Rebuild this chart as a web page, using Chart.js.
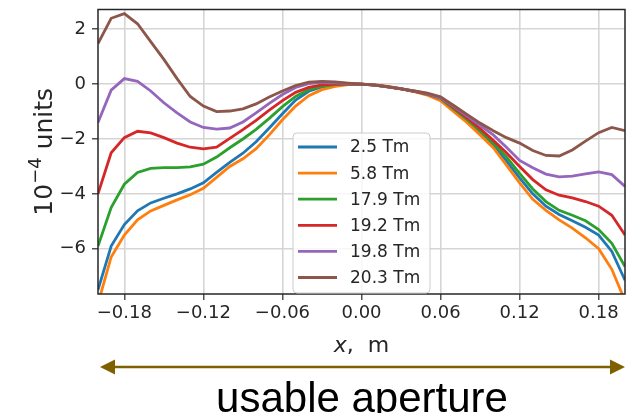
<!DOCTYPE html>
<html>
<head>
<meta charset="utf-8">
<script src="https://cdn.jsdelivr.net/npm/chart.js@4.4.1/dist/chart.umd.min.js"></script>
<style>
  html, body { margin: 0; padding: 0; background: #fff; }
  #wrap { width: 627px; height: 413px; }
</style>
</head>
<body>
<div id="wrap"><canvas id="chart" width="627" height="413"></canvas></div>
<script>
// sample positions along the aperture, m
const xPos = [-0.20, -0.19, -0.18, -0.17, -0.16, -0.15, -0.14, -0.13, -0.12, -0.11,
              -0.10, -0.09, -0.08, -0.07, -0.06, -0.05, -0.04, -0.03, -0.02, -0.01,
               0.00,  0.01,  0.02,  0.03,  0.04,  0.05,  0.06,  0.07,  0.08,  0.09,
               0.10,  0.11,  0.12,  0.13,  0.14,  0.15,  0.16,  0.17,  0.18,  0.19, 0.20];

const fieldLabels = ['2.5 Tm', '5.8 Tm', '17.9 Tm', '19.2 Tm', '19.8 Tm', '20.3 Tm'];
const lineColors = ['#1f77b4', '#ff7f0e', '#2ca02c', '#d62728', '#9467bd', '#8c564b'];

// field error, 1e-4 units
const f2_5 = [-7.50, -5.90, -5.12, -4.62, -4.33, -4.16, -4.00, -3.82, -3.60, -3.22,
              -2.85, -2.52, -2.10, -1.60, -1.08, -0.58, -0.26, -0.10, -0.03, -0.01,
               0.00, -0.03, -0.09, -0.16, -0.26, -0.38, -0.55, -0.93, -1.32, -1.75,
              -2.22, -2.80, -3.42, -4.00, -4.45, -4.75, -4.98, -5.22, -5.50, -6.10, -7.15];
const f5_8 = [-8.00, -6.30, -5.50, -4.95, -4.62, -4.42, -4.22, -4.03, -3.80, -3.40,
              -3.00, -2.72, -2.35, -1.85, -1.30, -0.80, -0.42, -0.20, -0.08, -0.02,
               0.00, -0.02, -0.08, -0.16, -0.27, -0.40, -0.60, -1.00, -1.40, -1.85,
              -2.32, -2.95, -3.60, -4.20, -4.60, -4.95, -5.25, -5.60, -6.00, -6.75, -7.90];
const f17_9 = [-5.90, -4.50, -3.65, -3.22, -3.07, -3.04, -3.04, -3.02, -2.92, -2.66,
               -2.32, -2.00, -1.65, -1.25, -0.82, -0.45, -0.20, -0.08, -0.02, 0.00,
                0.00, -0.04, -0.10, -0.17, -0.26, -0.37, -0.52, -0.90, -1.28, -1.70,
               -2.15, -2.65, -3.25, -3.82, -4.28, -4.60, -4.78, -4.98, -5.30, -5.80, -6.65];
const f19_2 = [-4.00, -2.50, -1.95, -1.72, -1.78, -1.95, -2.15, -2.30, -2.36, -2.30,
               -1.98, -1.66, -1.32, -0.95, -0.60, -0.30, -0.12, -0.03, 0.00, 0.01,
                0.00, -0.04, -0.10, -0.17, -0.26, -0.36, -0.50, -0.86, -1.22, -1.62,
               -2.05, -2.50, -3.00, -3.48, -3.85, -4.05, -4.15, -4.28, -4.45, -4.78, -5.50];
const f19_8 = [-1.40, -0.22, 0.20, 0.10, -0.25, -0.68, -1.05, -1.38, -1.58, -1.64,
               -1.60, -1.38, -1.05, -0.70, -0.38, -0.12, 0.02, 0.06, 0.05, 0.02,
                0.00, -0.04, -0.10, -0.17, -0.25, -0.35, -0.50, -0.82, -1.16, -1.50,
               -1.85, -2.30, -2.78, -3.05, -3.28, -3.38, -3.35, -3.27, -3.20, -3.30, -3.73];
const f20_3 = [1.48, 2.40, 2.57, 2.20, 1.55, 0.90, 0.20, -0.45, -0.80, -1.00,
               -0.98, -0.90, -0.72, -0.47, -0.25, -0.05, 0.07, 0.10, 0.08, 0.04,
                0.00, -0.04, -0.10, -0.17, -0.25, -0.33, -0.46, -0.78, -1.10, -1.42,
               -1.70, -1.95, -2.15, -2.42, -2.60, -2.62, -2.40, -2.08, -1.77, -1.58, -1.70];

const xTicks = [-0.18, -0.12, -0.06, 0, 0.06, 0.12, 0.18];
const xTickLabels = ['\u22120.18', '\u22120.12', '\u22120.06', '0.00', '0.06', '0.12', '0.18'];
const yTicks = [-6, -4, -2, 0, 2];
const yTickLabels = ['\u22126', '\u22124', '\u22122', '0', '2'];

const series = [f2_5, f5_8, f17_9, f19_2, f19_8, f20_3];

const datasets = series.map((vals, i) => ({
  label: fieldLabels[i],
  data: vals.map((v, k) => ({ x: xPos[k], y: v })),
  borderColor: lineColors[i],
  borderWidth: 2.8,
  pointRadius: 0,
  tension: 0,
  fill: false,
  order: series.length - i   // later fields drawn on top
}));

const FONT = 'DejaVu Sans';

// drop the label overhang chart.js reserves so the plot box sits where we put it
function noOverhang(s) {
  s.paddingTop = 0; s.paddingBottom = 0; s.paddingLeft = 0; s.paddingRight = 0;
}

const decorations = {
  id: 'decorations',
  beforeDraw(chart) {
    const ctx = chart.ctx;
    ctx.save();
    ctx.fillStyle = '#fff';
    ctx.fillRect(0, 0, chart.width, chart.height);
    ctx.restore();
  },
  afterDatasetsDraw(chart) {
    const { ctx, chartArea: a } = chart;
    ctx.save();
    ctx.strokeStyle = '#262626';
    ctx.lineWidth = 1.5;
    ctx.strokeRect(a.left, a.top, a.right - a.left, a.bottom - a.top);
    ctx.restore();
  },
  afterDraw(chart) {
    const ctx = chart.ctx;
    const a = chart.chartArea;
    ctx.save();

    // legend
    const lx = 293, ly = 133, lw = 137, lh = 160;
    ctx.beginPath();
    ctx.roundRect(lx, ly, lw, lh, 4);
    ctx.fillStyle = 'rgba(255,255,255,0.8)';
    ctx.fill();
    ctx.strokeStyle = '#cccccc';
    ctx.lineWidth = 1;
    ctx.stroke();
    ctx.font = '17px "' + FONT + '"';
    ctx.textBaseline = 'middle';
    ctx.textAlign = 'left';
    chart.data.datasets.forEach((ds, i) => {
      const y = 147 + i * 26.1;
      ctx.strokeStyle = ds.borderColor;
      ctx.lineWidth = 2.8;
      ctx.beginPath();
      ctx.moveTo(298, y);
      ctx.lineTo(337, y);
      ctx.stroke();
      ctx.fillStyle = '#262626';
      ctx.fillText(ds.label, 350, y + 1);
    });

    // y title: 10^-4 units
    ctx.save();
    ctx.translate(52, (a.top + a.bottom) / 2);
    ctx.rotate(-Math.PI / 2);
    ctx.fillStyle = '#262626';
    ctx.textBaseline = 'alphabetic';
    const big = '25px "' + FONT + '"', small = '18px "' + FONT + '"';
    ctx.font = big;
    const w1 = ctx.measureText('10').width;
    const w3 = ctx.measureText(' units').width;
    ctx.font = small;
    const w2 = ctx.measureText('\u22124').width;
    let x0 = -(w1 + w2 + w3) / 2;
    ctx.font = big;
    ctx.fillText('10', x0, 0);
    ctx.font = small;
    ctx.fillText('\u22124', x0 + w1, -11);
    ctx.font = big;
    ctx.fillText(' units', x0 + w1 + w2, 0);
    ctx.restore();

    // x title: x, m
    const cx = (a.left + a.right) / 2;
    ctx.textBaseline = 'alphabetic';
    ctx.fillStyle = '#262626';
    const it = 'italic 22px "' + FONT + '"', up = '22px "' + FONT + '"';
    ctx.font = it;
    const wx = ctx.measureText('x').width;
    ctx.font = up;
    const wr = ctx.measureText(',  m').width;
    const sx = cx - (wx + wr) / 2;
    ctx.font = it;
    ctx.fillText('x', sx, 352);
    ctx.font = up;
    ctx.fillText(',  m', sx + wx, 352);

    // double arrow under the axis
    const ay = 367, ax0 = 100, ax1 = 625, head = 15, hw = 7.5;
    ctx.strokeStyle = '#7f6000';
    ctx.fillStyle = '#7f6000';
    ctx.lineWidth = 2.5;
    ctx.beginPath();
    ctx.moveTo(ax0 + head - 2, ay);
    ctx.lineTo(ax1 - head + 2, ay);
    ctx.stroke();
    ctx.beginPath();
    ctx.moveTo(ax0, ay);
    ctx.lineTo(ax0 + head, ay - hw);
    ctx.lineTo(ax0 + head, ay + hw);
    ctx.closePath();
    ctx.fill();
    ctx.beginPath();
    ctx.moveTo(ax1, ay);
    ctx.lineTo(ax1 - head, ay - hw);
    ctx.lineTo(ax1 - head, ay + hw);
    ctx.closePath();
    ctx.fill();

    ctx.fillStyle = '#000';
    ctx.font = '42px "Liberation Sans"';
    ctx.textAlign = 'center';
    ctx.fillText('usable aperture', 362, 412);
    ctx.restore();
  }
};

new Chart(document.getElementById('chart'), {
  type: 'line',
  data: { datasets },
  options: {
    responsive: false,
    animation: false,
    layout: { padding: { left: 0, right: 2, top: 9.5, bottom: 79 } },
    plugins: { legend: { display: false }, tooltip: { enabled: false } },
    scales: {
      x: {
        type: 'linear',
        min: -0.2,
        max: 0.2,
        afterBuildTicks: s => { s.ticks = xTicks.map(v => ({ value: v })); },
        afterFit: s => { s.height = 40; noOverhang(s); },
        ticks: {
          callback: (v, i) => xTickLabels[i],
          font: { family: FONT, size: 18 },
          color: '#262626',
          padding: 3,
          maxRotation: 0,
          autoSkip: false
        },
        grid: { color: '#d5d5d5', lineWidth: 1.6, tickColor: '#262626', tickLength: 6, tickWidth: 1.2 },
        border: { display: false }
      },
      y: {
        type: 'linear',
        min: -7.65,
        max: 2.72,
        afterBuildTicks: s => { s.ticks = yTicks.map(v => ({ value: v })); },
        afterFit: s => { s.width = 98; noOverhang(s); },
        ticks: {
          callback: (v, i) => yTickLabels[i],
          font: { family: FONT, size: 18 },
          color: '#262626',
          padding: 6,
          autoSkip: false
        },
        grid: { color: '#d5d5d5', lineWidth: 1.6, tickColor: '#262626', tickLength: 6, tickWidth: 1.2 },
        border: { display: false }
      }
    }
  },
  plugins: [decorations]
});
</script>
</body>
</html>
